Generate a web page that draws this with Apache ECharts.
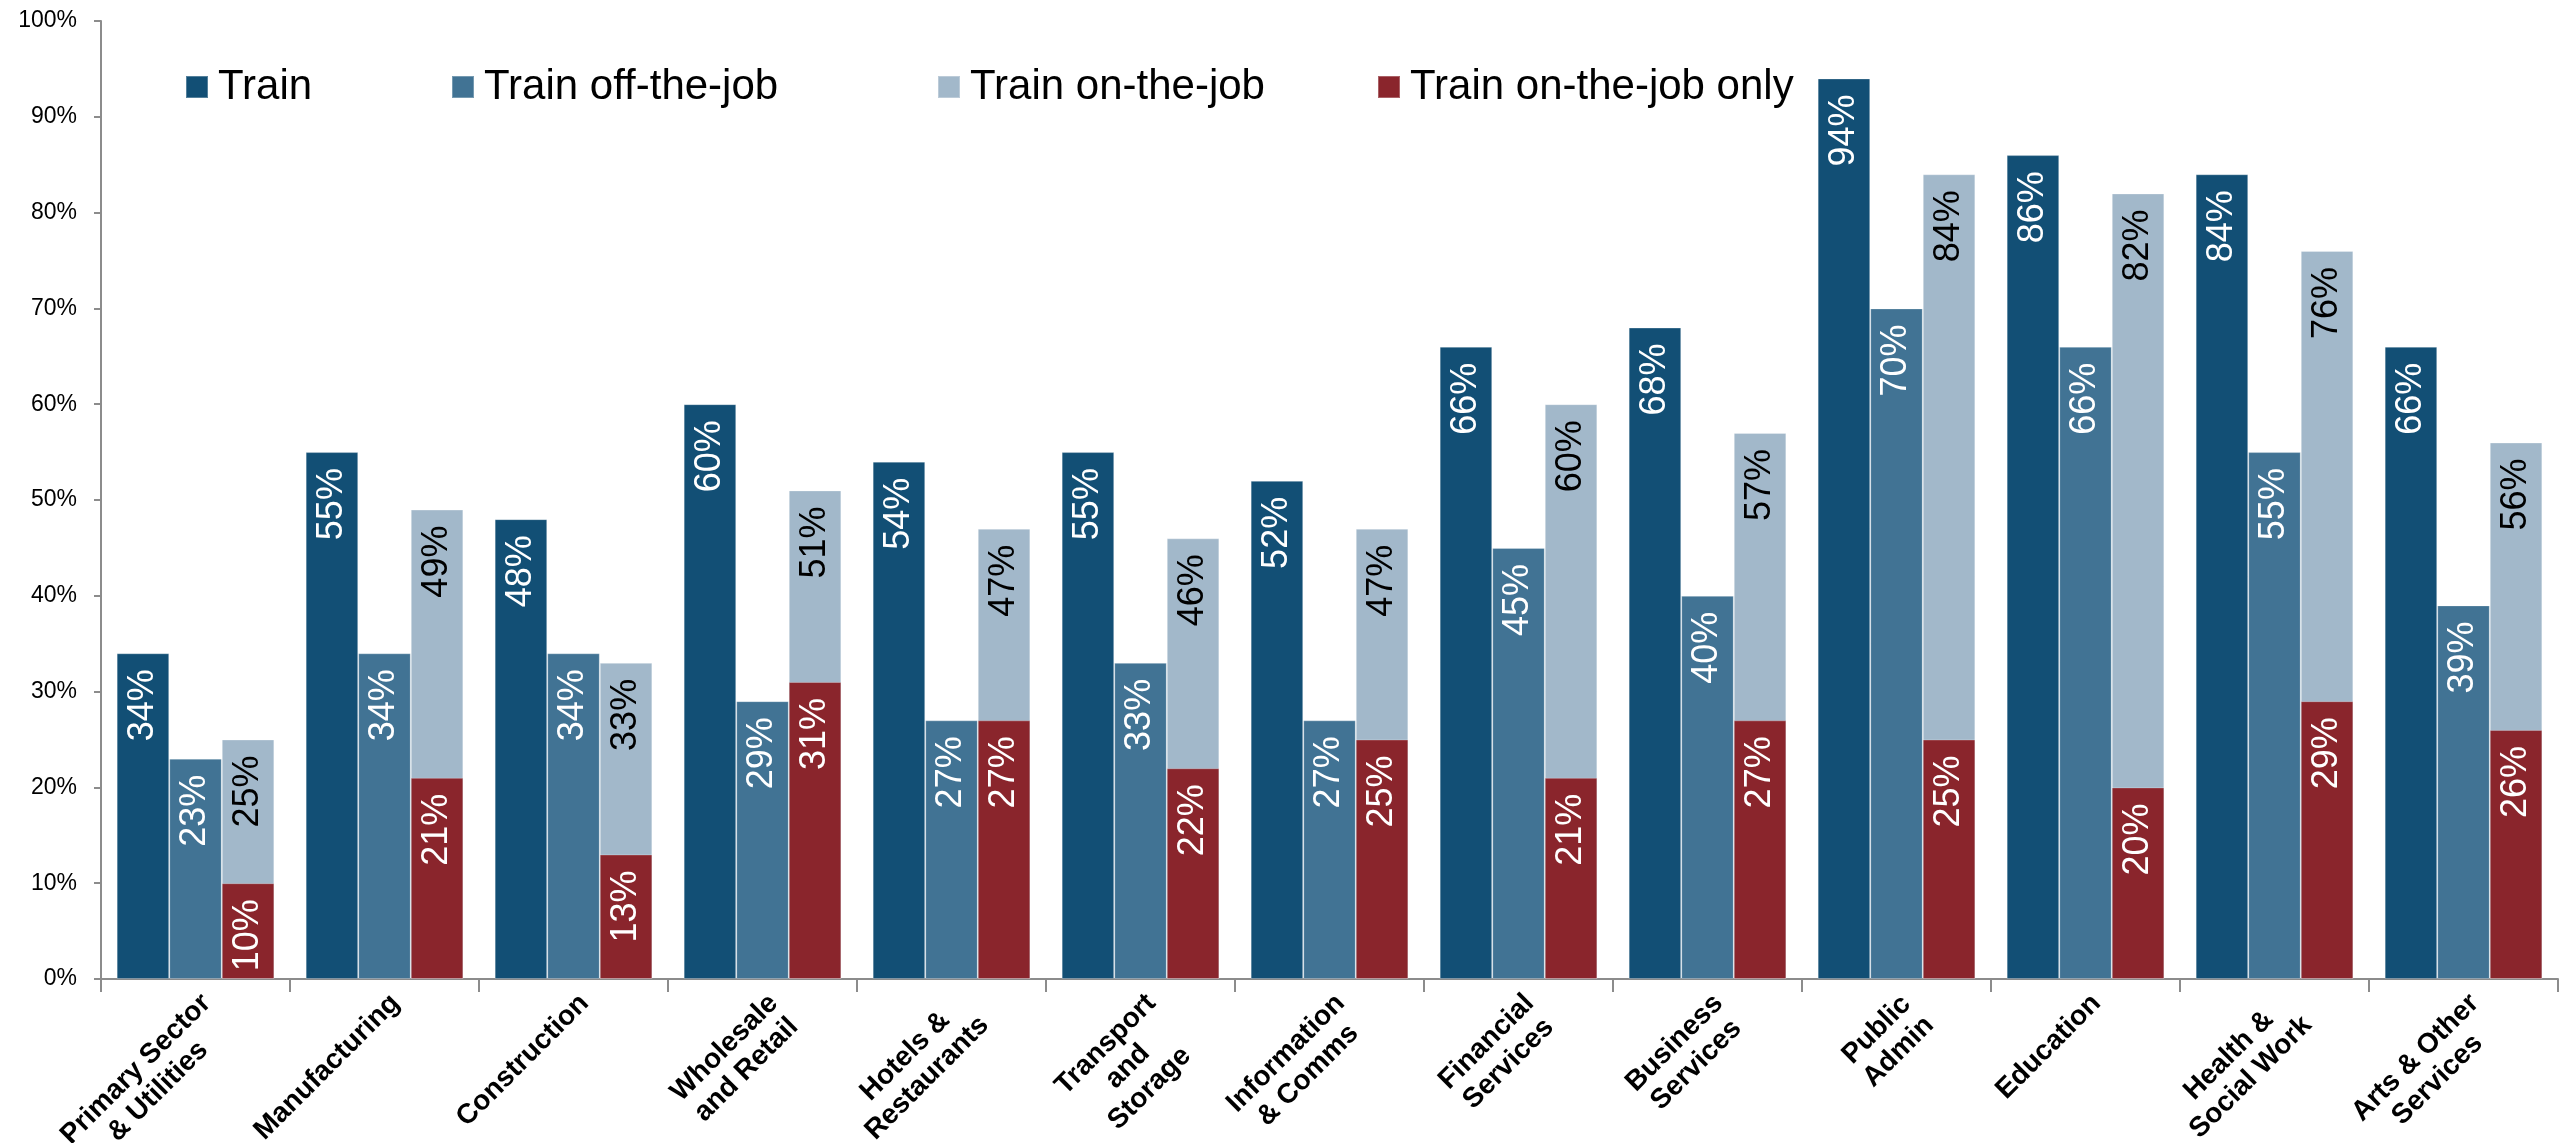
<!DOCTYPE html>
<html>
<head>
<meta charset="utf-8">
<title>Training by sector</title>
<script src="https://cdn.jsdelivr.net/npm/echarts@6/dist/echarts.min.js"></script>
<style>
  html, body { margin: 0; padding: 0; background: #ffffff; }
  #chart { width: 2560px; height: 1143px; }
</style>
</head>
<body>
<div id="chart"></div>
<script>
// Sectors shown along the x axis (line breaks as printed)
const categories = [
  'Primary Sector\n& Utilities',
  'Manufacturing',
  'Construction',
  'Wholesale\nand Retail',
  'Hotels &\nRestaurants',
  'Transport\nand\nStorage',
  'Information\n& Comms',
  'Financial\nServices',
  'Business\nServices',
  'Public\nAdmin',
  'Education',
  'Health &\nSocial Work',
  'Arts & Other\nServices'
];

// Share of employers in each sector (%)
const train          = [34, 55, 48, 60, 54, 55, 52, 66, 68, 94, 86, 84, 66];
const trainOffJob    = [23, 34, 34, 29, 27, 33, 27, 45, 40, 70, 66, 55, 39];
const trainOnJob     = [25, 49, 33, 51, 47, 46, 47, 60, 57, 84, 82, 76, 56];
const trainOnJobOnly = [10, 21, 13, 31, 27, 22, 25, 21, 27, 25, 20, 29, 26];

// Y axis ticks (%)
const yTicks = { min: 0, max: 100, step: 10 };

const seriesNames = ['Train', 'Train off-the-job', 'Train on-the-job', 'Train on-the-job only'];
const colors = ['#124F75', '#417394', '#A2B8CA', '#8A252C'];

const FONT = '"Liberation Sans", Arial, sans-serif';
const AXIS_GREY = '#8C8C8C';

function barLabel(color) {
  return {
    show: true,
    position: 'insideTop',
    distance: 16,
    rotate: 90,
    align: 'right',
    verticalAlign: 'middle',
    color: color,
    fontFamily: FONT,
    fontSize: 36,
    formatter: '{c}%'
  };
}

const barStyle = (c) => ({ color: c, borderColor: 'rgba(255,255,255,0.28)', borderWidth: 1 });

// One single-entry legend per series so each sits at its own spot on the row
const legendLefts = [180, 446, 932, 1372];
const legends = seriesNames.map((name, i) => ({
  data: [name],
  left: legendLefts[i],
  top: 61,
  icon: 'rect',
  itemWidth: 22,
  itemHeight: 22,
  selectedMode: false,
  textStyle: { fontFamily: FONT, fontSize: 42, color: '#000', padding: [0, 0, 0, 5] }
}));

const chart = echarts.init(document.getElementById('chart'), null, { renderer: 'canvas' });

chart.setOption({
  animation: false,
  backgroundColor: '#ffffff',
  color: colors,
  legend: legends,
  grid: { left: 101, right: 2, top: 21, bottom: 164, containLabel: false, outerBoundsMode: 'none' },
  xAxis: [
    {
      type: 'category',
      data: categories,
      axisLine: { show: true, lineStyle: { color: AXIS_GREY, width: 2 } },
      axisTick: { show: true, alignWithLabel: false, length: 13, lineStyle: { color: AXIS_GREY, width: 2 } },
      axisLabel: {
        interval: 0,
        rotate: 45,
        margin: 9,
        align: 'right',
        verticalAlign: 'top',
        fontFamily: FONT,
        fontWeight: 'bold',
        fontSize: 28,
        lineHeight: 31,
        color: '#000',
        formatter: (v) => v.split('\n').map(s => '{c|' + s + '}').join('\n'),
        rich: { c: { align: 'center', fontFamily: FONT, fontWeight: 'bold', fontSize: 28, lineHeight: 31, color: '#000' } }
      }
    },
    {
      // overlay axis: places the "only" bars in the same slot as the on-the-job bars
      type: 'category',
      data: categories,
      show: false
    }
  ],
  yAxis: {
    type: 'value',
    min: yTicks.min,
    max: yTicks.max,
    interval: yTicks.step,
    splitLine: { show: false },
    axisLine: { show: true, lineStyle: { color: AXIS_GREY, width: 2 } },
    axisTick: { show: true, length: 7, lineStyle: { color: AXIS_GREY, width: 2 } },
    axisLabel: {
      margin: 24,
      fontFamily: FONT,
      fontSize: 23,
      color: '#000',
      formatter: '{value}%'
    }
  },
  series: [
    { name: seriesNames[0], type: 'bar', xAxisIndex: 0, data: train, barGap: '0%', barCategoryGap: '16.6%',
      itemStyle: barStyle(colors[0]), label: barLabel('#ffffff') },
    { name: seriesNames[1], type: 'bar', xAxisIndex: 0, data: trainOffJob, barGap: '0%', barCategoryGap: '16.6%',
      itemStyle: barStyle(colors[1]), label: barLabel('#ffffff') },
    { name: seriesNames[2], type: 'bar', xAxisIndex: 0, data: trainOnJob, barGap: '0%', barCategoryGap: '16.6%',
      itemStyle: barStyle(colors[2]), label: barLabel('#000000') },
    { name: 'slot1', type: 'bar', xAxisIndex: 1, data: [], barGap: '0%', barCategoryGap: '16.6%' },
    { name: 'slot2', type: 'bar', xAxisIndex: 1, data: [], barGap: '0%', barCategoryGap: '16.6%' },
    { name: seriesNames[3], type: 'bar', xAxisIndex: 1, data: trainOnJobOnly, barGap: '0%', barCategoryGap: '16.6%',
      itemStyle: barStyle(colors[3]), label: barLabel('#ffffff') }
  ]
});
</script>
</body>
</html>
